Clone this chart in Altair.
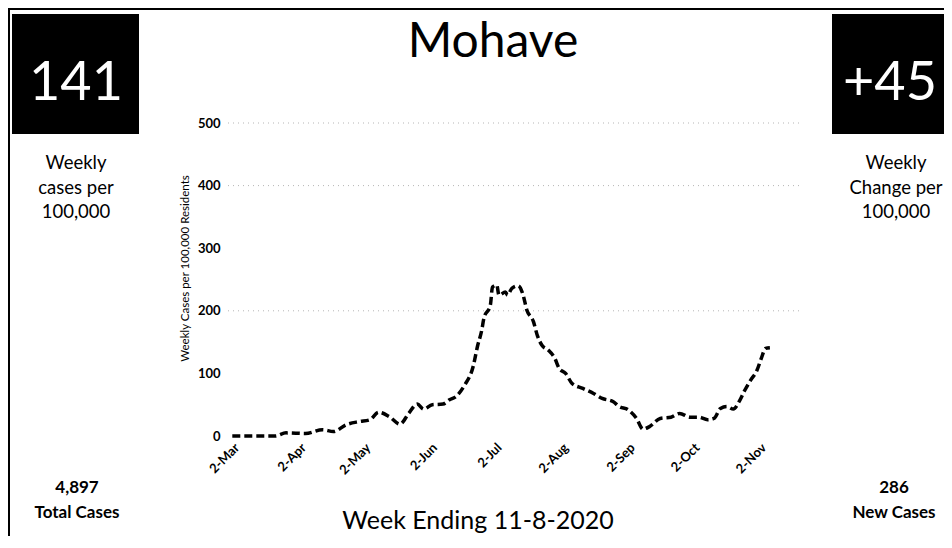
import altair as alt
import pandas as pd

FONT = "Lato"

# ---- data ----
dates = ["2020-02-29", "2020-03-20", "2020-03-25", "2020-04-03", "2020-04-11", "2020-04-16",
         "2020-04-22", "2020-04-28", "2020-05-03", "2020-05-07", "2020-05-12", "2020-05-17",
         "2020-05-21", "2020-05-25", "2020-05-28", "2020-06-01", "2020-06-06", "2020-06-09",
         "2020-06-12", "2020-06-16", "2020-06-20", "2020-06-22", "2020-06-24", "2020-06-25",
         "2020-06-28", "2020-06-29", "2020-07-01", "2020-07-02", "2020-07-05", "2020-07-06",
         "2020-07-08", "2020-07-11", "2020-07-13", "2020-07-15", "2020-07-18", "2020-07-20",
         "2020-07-22", "2020-07-25", "2020-07-28", "2020-07-30", "2020-08-02", "2020-08-05",
         "2020-08-10", "2020-08-15", "2020-08-19", "2020-08-24", "2020-08-27", "2020-08-31",
         "2020-09-04", "2020-09-07", "2020-09-10", "2020-09-15", "2020-09-20", "2020-09-24",
         "2020-09-29", "2020-10-03", "2020-10-07", "2020-10-10", "2020-10-13", "2020-10-16",
         "2020-10-19", "2020-10-22", "2020-10-24", "2020-10-27", "2020-10-30", "2020-11-01",
         "2020-11-03", "2020-11-05"]
weekly_cases = [0, 0, 5, 4, 10, 7, 18, 23, 26, 38,
                31, 19, 36, 51, 43, 50, 51, 58, 63, 81,
                111, 143, 169, 188, 209, 238, 241, 225, 230, 225,
                236, 240, 228, 201, 183, 159, 145, 137, 124, 108,
                100, 84, 76, 68, 60, 55, 47, 42, 28, 11,
                15, 28, 30, 36, 30, 30, 26, 28, 44, 47,
                43, 57, 71, 89, 105, 124, 140, 141]

tick_months = [3, 4, 5, 6, 7, 8, 9, 10, 11]   # the 2nd of each month is labelled
y_ticks = [0, 100, 200, 300, 400, 500]
grid_levels = [200, 400, 500]

county = "Mohave"
weekly_rate = "141"
weekly_rate_label = ["Weekly", "cases per", "100,000"]
weekly_change = "+45"
weekly_change_label = ["Weekly", "Change per", "100,000"]
total_cases = ["4,897", "Total Cases"]
new_cases = ["286", "New Cases"]
week_ending = "Week Ending 11-8-2020"
y_title = "Weekly Cases per 100,000 Residents"

df = pd.DataFrame({"date": dates, "cases": weekly_cases})

W, H = 572, 313

x_scale = alt.Scale(type="utc",
                    domain=[alt.DateTime(year=2020, month=2, date=27, utc=True),
                            alt.DateTime(year=2020, month=11, date=19, utc=True)])
y_scale = alt.Scale(domain=[0, 500], nice=False)

y_axis = alt.Axis(values=y_ticks, labelFont=FONT, labelFontSize=13, labelFontWeight="bold",
                  labelColor="black", labelPadding=8, ticks=False, domain=False, grid=False,
                  titleFont=FONT, titleFontSize=11.5, titleFontWeight="normal", titleColor="black",
                  titleX=-43, titleY=145, titleAngle=270, titleAlign="center",
                  titleBaseline="middle")

line = alt.Chart(df).mark_line(
    color="black", strokeWidth=3.5, strokeDash=[8, 4], interpolate="monotone"
).encode(
    x=alt.X("date:T", scale=x_scale, title=None,
            axis=alt.Axis(values=[alt.DateTime(year=2020, month=m, date=2, utc=True) for m in tick_months],
                          format="%-d-%b", labelAngle=-45, labelFont=FONT, labelFontSize=13,
                          labelFontWeight="bold", labelColor="black", labelPadding=5,
                          labelOffset=-4, ticks=False, domain=False, grid=False)),
    y=alt.Y("cases:Q", scale=y_scale, title=y_title, axis=y_axis),
)

grid = alt.Chart(pd.DataFrame({"cases": grid_levels})).mark_rule(
    color="#b5b5b5", strokeWidth=1, strokeDash=[1, 4]
).encode(
    y=alt.Y("cases:Q", scale=y_scale, title=y_title, axis=y_axis),
    x=alt.value(0), x2=alt.value(W),
)


def one():
    return alt.Chart(alt.Data(values=[{}]))


def label(text, cx, cy, size, weight="normal", color="black", baseline="middle", lh=None):
    kw = dict(font=FONT, fontSize=size, fontWeight=weight, color=color,
              align="center", baseline=baseline)
    if lh is not None:
        kw["lineHeight"] = lh
    return one().mark_text(**kw).encode(x=alt.value(cx), y=alt.value(cy), text=alt.value(text))


def box(x1, x2, y1, y2):
    return one().mark_rect(color="black").encode(
        x=alt.value(x1), x2=alt.value(x2), y=alt.value(y1), y2=alt.value(y2))


border_left = one().mark_rule(color="black", strokeWidth=2).encode(
    x=alt.value(-219), y=alt.value(-114), y2=alt.value(413))
border_top = one().mark_rule(color="black", strokeWidth=2).encode(
    x=alt.value(-220), x2=alt.value(716), y=alt.value(-114))

layers = [
    grid, line,
    border_left, border_top,
    box(-216, -89, -109, 11),
    box(604, 716, -109, 11),
    label(weekly_rate, -152, -23, 54, color="white", baseline="alphabetic"),
    label(weekly_change, 662, -23, 54, color="white", baseline="alphabetic"),
    label(weekly_rate_label, -152, 40, 18.5, lh=24.5),
    label(weekly_change_label, 668, 40, 18.5, lh=24.5),
    label(total_cases, -151, 365, 17, weight="bold", lh=25),
    label(new_cases, 666, 365, 17, weight="bold", lh=25),
    label(county, 265, -66, 48, baseline="alphabetic"),
    label(week_ending, 250, 398, 25),
]

chart = alt.layer(*layers).properties(
    width=W, height=H,
    autosize=alt.AutoSizeParams(type="none"),
    padding={"left": 220, "top": 115, "right": 144, "bottom": 100},
    background="white",
).configure_view(strokeWidth=0)

chart.save("out.html", embed_options={"renderer": "svg", "actions": False})
